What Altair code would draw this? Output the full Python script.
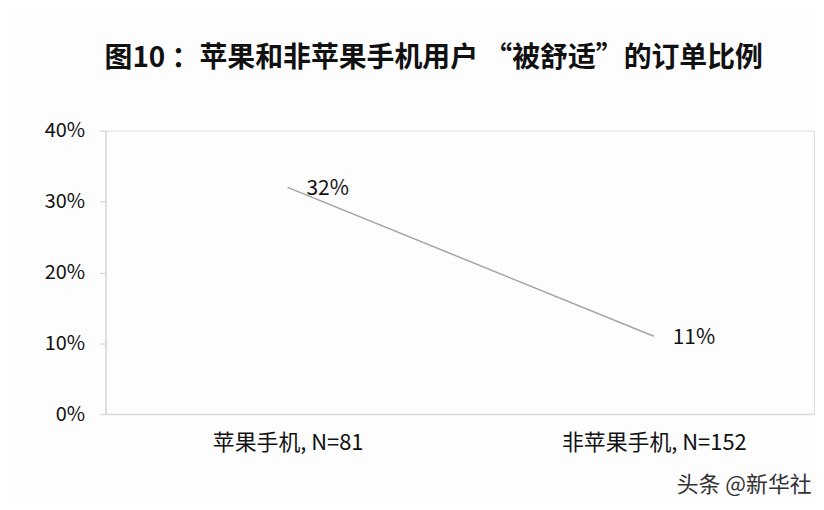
import altair as alt
import pandas as pd

categories = ["苹果手机, N=81", "非苹果手机, N=152"]
values = [0.32, 0.11]
labels = ["32%", "11%"]
title_text = "图10 ：苹果和非苹果手机用户 “被舒适”的订单比例"
watermark = ["头条 @新华社"]

FONT = "Noto Sans CJK SC"

df = pd.DataFrame({"cat": categories, "val": values, "lab": labels})
wm = pd.DataFrame({"t": watermark})
base_df = pd.DataFrame({"zero": [0]})

x_enc = alt.X("cat:N", sort=categories, title=None,
              scale=alt.Scale(type="point", range=[183, 551], padding=0),
              axis=alt.Axis(labelAngle=0, ticks=False, labelFontSize=22, labelColor="#111111",
                            labelFont=FONT, labelPadding=18, labelLimit=0, domain=False, grid=False))
y_enc = alt.Y("val:Q", title=None,
              scale=alt.Scale(domain=[0, 0.4]),
              axis=alt.Axis(values=[0, 0.1, 0.2, 0.3, 0.4], format=".0%", labelFontSize=20,
                            labelColor="#111111", labelFont=FONT, tickSize=6, tickColor="#d0d0d0",
                            labelPadding=15, domainColor="#d0d0d0", grid=False))

baseline = alt.Chart(base_df).mark_rule(color="#d9d9d9", strokeWidth=1).encode(y=alt.Y("zero:Q"))
line = alt.Chart(df).mark_line(color="#a3a3a3", strokeWidth=1.5).encode(x=x_enc, y=y_enc)
text = alt.Chart(df).mark_text(align="left", baseline="middle", dx=19, dy=2, fontSize=21,
                               font=FONT, color="#111111").encode(
    x=alt.X("cat:N", sort=categories), y="val:Q", text="lab:N")
mark_wm = alt.Chart(wm).mark_text(align="left", baseline="middle", fontSize=22, font=FONT,
                                  color="#333333").encode(
    x=alt.value(574), y=alt.value(356), text="t:N")

chart = alt.layer(baseline, line, text, mark_wm).properties(
    width=712, height=285,
    autosize=alt.AutoSizeParams(type="none"),
    padding={"left": 98, "top": 122, "right": 2, "bottom": 85},
    title=alt.TitleParams(title_text, anchor="start", frame="group", fontSize=28, font=FONT,
                          fontWeight="bold", color="#111111", offset=48, dx=-1),
).configure_view(stroke=None).configure(background="#fdfdfe")

chart.save("out.html", embed_options={"renderer": "svg", "actions": False})
